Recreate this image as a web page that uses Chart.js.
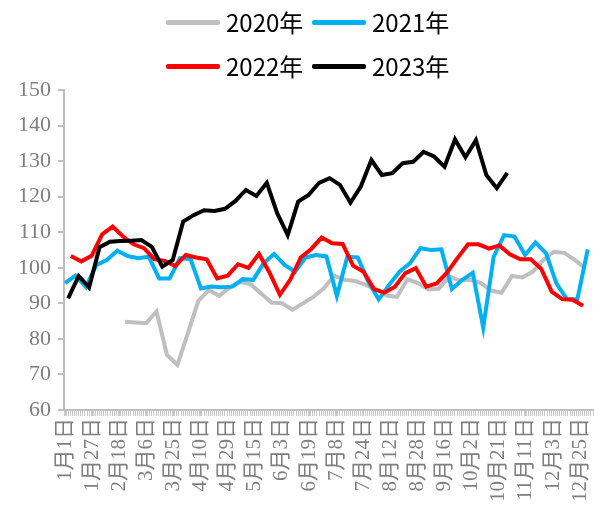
<!DOCTYPE html>
<html>
<head>
<meta charset="utf-8">
<script src="https://cdn.jsdelivr.net/npm/chart.js@4.4.1/dist/chart.umd.min.js"></script>
<style>
  html, body { margin: 0; padding: 0; background: #fff; }
  #wrap { position: relative; width: 594px; height: 519px; }
  #chart { position: absolute; left: 0; top: 0; }
  .item { position: absolute; height: 30px; font-family: "Noto Sans CJK SC", sans-serif; font-size: 24px; color: #000; line-height: 30px; }
  .item i { position: absolute; left: 0; top: 13px; width: 54px; height: 5px; border-radius: 2px; }
  .item span { position: absolute; left: 60px; top: 0; white-space: nowrap; }
</style>
</head>
<body>
<div id="wrap">
  <canvas id="chart" width="594" height="519"></canvas>
  <div id="legend"></div>
</div>
<script>
// x axis tick labels (shown every few weeks)
const tickLabels = ['1月1日', '1月27日', '2月18日', '3月6日', '3月25日', '4月10日', '4月29日',
  '5月15日', '6月3日', '6月19日', '7月8日', '7月24日', '8月12日', '8月28日', '9月16日',
  '10月2日', '10月21日', '11月11日', '12月3日', '12月25日'];

const years = ['2020年', '2021年', '2022年', '2023年'];
const colors = ['#bfbfbf', '#00b0f0', '#ff0000', '#000000'];

// first week of each series on the axis (in weeks)
const starts = [5.65, -0.1, 0.45, 0.2];

const v2020 = [84.8, 84.6, 84.4, 87.7, 75.5, 72.7, 81.6, 90.7, 93.7, 92.1, 94.5, 96, 95.4, 92.8,
  90.2, 90, 88.2, 90, 91.8, 94.2, 97.8, 96.6, 96.3, 95.2, 94, 92.2, 91.8, 96.8, 95.7, 93.9,
  94.1, 97.5, 96.4, 96.6, 95.8, 93.6, 93, 97.7, 97.3, 98.9, 102.2, 104.5, 104.2, 102.2, 99.9];

const v2021 = [95.7, 97.8, 94.6, 100.8, 102.2, 104.8, 103.3, 102.7, 103.1, 97, 97, 102.7, 102.5,
  94.2, 94.7, 94.5, 94.7, 96.8, 96.6, 101.3, 103.9, 100.8, 98.9, 102.9, 103.6, 103.2, 92.1,
  103.1, 102.9, 96.1, 91.1, 95.2, 98.9, 101.3, 105.5, 105, 105.2, 94, 96.6, 98.6, 83.2, 103.1,
  109.2, 108.8, 103.6, 107.1, 104.1, 95.6, 91.2, 91.1, 105.2];

const v2022 = [103.3, 101.8, 103.4, 109.4, 111.6, 108.8, 106.6, 105.5, 102.4, 101.9, 100.5, 103.6,
  102.9, 102.4, 97, 97.8, 101, 100, 103.9, 98.7, 92.4, 96.7, 102.9, 105.3, 108.5, 106.9, 106.7,
  100.6, 98.9, 94, 93, 94.7, 98.5, 99.9, 94.7, 95.6, 98.7, 102.8, 106.6, 106.6, 105.4, 106.3,
  103.8, 102.4, 102.4, 99.7, 93.3, 91.2, 91, 89.3];

const v2023 = [91.4, 97.7, 94.5, 105.8, 107.3, 107.5, 107.6, 107.8, 105.9, 100.3, 102.2, 113, 114.8,
  116.2, 116, 116.6, 118.8, 121.9, 120.2, 123.9, 115.3, 109.2, 118.6, 120.5, 123.9, 125.2, 123.3,
  118.3, 122.9, 130.3, 126.1, 126.6, 129.4, 129.8, 132.6, 131.3, 128.4, 136.1, 131.1, 135.9,
  126.1, 122.4, 126.7];

const series = [v2020, v2021, v2022, v2023];

// legend, two per row
const legend = document.getElementById('legend');
const legendPos = [[166, 7], [312, 7], [166, 51], [312, 51]];
years.forEach((y, i) => {
    let d = document.createElement('div');
    d.className = 'item';
    d.style.left = legendPos[i][0] + 'px';
    d.style.top = legendPos[i][1] + 'px';
    d.innerHTML = '<i style="background:' + colors[i] + '"></i><span>' + y + '</span>';
    legend.appendChild(d);
});

function toPoints(values, start) {
    return values.map((v, i) => ({x: start + i, y: v}));
}

let datasets = [];
for (let i = 0; i < series.length; i++) {
    datasets.push({
        label: years[i],
        data: toPoints(series[i], starts[i]),
        borderColor: colors[i],
        borderWidth: 4,
        pointRadius: 0,
        tension: 0,
        fill: false,
        order: 3 - i
    });
}

const xMin = -0.2, xMax = 50.4;
const labelStart = -0.1, labelStep = 2.593;

let ctx = document.getElementById('chart').getContext('2d');
new Chart(ctx, {
    type: 'line',
    data: { datasets: datasets },
    options: {
        responsive: false,
        animation: false,
        devicePixelRatio: 1,
        layout: { padding: { top: 90, right: 1, left: 0, bottom: 0 } },
        plugins: { legend: { display: false }, tooltip: { enabled: false } },
        scales: {
            x: {
                type: 'linear',
                min: xMin,
                max: xMax,
                afterBuildTicks: scale => {
                    let t = [];
                    for (let v = xMin; v <= xMax + 0.001; v += 0.2) t.push({value: v, lab: ''});
                    tickLabels.forEach((l, i) => t.push({value: labelStart + i * labelStep, lab: l}));
                    t.sort((a, b) => a.value - b.value);
                    scale.ticks = t;
                },
                afterFit: scale => {
                    scale.height = 109;
                    scale.paddingLeft = 0;
                    scale.paddingRight = 0;
                },
                ticks: {
                    autoSkip: false,
                    minRotation: 90,
                    maxRotation: 90,
                    padding: 2,
                    color: '#7f7f7f',
                    font: { family: "'Liberation Serif', 'Noto Sans CJK SC'", size: 21 },
                    callback: function (value, index, ticks) { return ticks[index].lab; }
                },
                grid: { drawOnChartArea: false, tickLength: 6, color: '#c8c8c8', lineWidth: 1 },
                border: { color: '#bfbfbf', width: 2 }
            },
            y: {
                min: 60,
                max: 150,
                afterFit: scale => { scale.width = 64; },
                ticks: {
                    stepSize: 10,
                    padding: 7,
                    color: '#7f7f7f',
                    font: { family: "'Liberation Serif'", size: 22 }
                },
                grid: { drawOnChartArea: false, tickLength: 6, color: '#bfbfbf', lineWidth: 2 },
                border: { color: '#bfbfbf', width: 2 }
            }
        }
    }
});
</script>
</body>
</html>
